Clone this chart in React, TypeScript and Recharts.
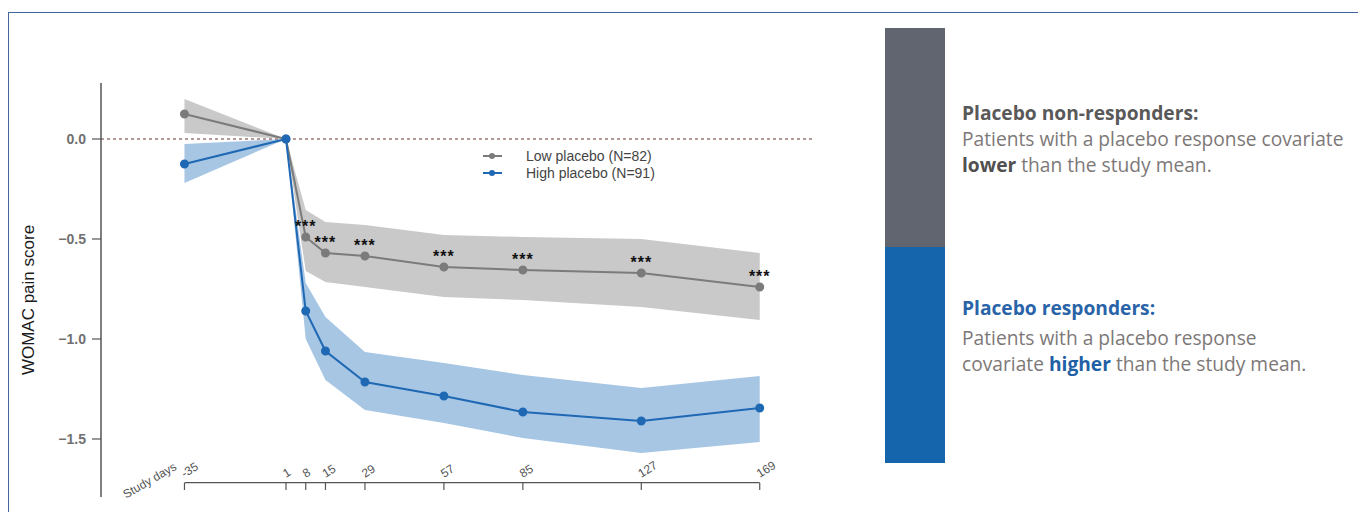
import React from 'react';
import { ComposedChart, Line, Area, XAxis, YAxis, ReferenceLine, LabelList } from 'recharts';

// study days on the x axis
const DAYS = [-35, 1, 8, 15, 29, 57, 85, 127, 169];

// Low placebo (N=82): mean and band
const LOW_MEAN = [0.125, 0, -0.49, -0.57, -0.585, -0.64, -0.655, -0.67, -0.74];
const LOW_UPPER = [0.2, 0, -0.355, -0.415, -0.43, -0.48, -0.49, -0.5, -0.57];
const LOW_LOWER = [0.03, 0, -0.66, -0.715, -0.74, -0.79, -0.805, -0.84, -0.905];

// High placebo (N=91): mean and band
const HIGH_MEAN = [-0.125, 0, -0.86, -1.06, -1.215, -1.285, -1.365, -1.41, -1.345];
const HIGH_UPPER = [-0.025, 0, -0.72, -0.89, -1.065, -1.12, -1.18, -1.245, -1.185];
const HIGH_LOWER = [-0.22, 0, -1.0, -1.205, -1.355, -1.42, -1.495, -1.57, -1.515];

const SIGNIF = ['', '', '***', '***', '***', '***', '***', '***', '***'];
const Y_TICKS = [0, -0.5, -1, -1.5];

const FONT = '"Liberation Sans", Arial, sans-serif';
const TEXT_FONT = '"Open Sans", Lato, sans-serif';
const GREY = '#7b7b7b';
const BLUE = '#1f68b4';
const AXIS_Y = 475; // day axis position inside the chart svg
const AXIS_VALUE = -1.718;

const DayTick = (props: any) => {
  const { x, payload, index } = props;
  const ly = AXIS_Y - 5;
  return (
    <g>
      <line x1={x} x2={x} y1={AXIS_Y} y2={AXIS_Y + 7} stroke="#555" strokeWidth={1.2} />
      <text x={x} y={ly} transform={`rotate(-32 ${x} ${ly})`} fontSize={12} fill="#555" fontFamily={FONT}>
        {payload.value}
      </text>
      {index === 0 && (
        <text x={x - 7} y={AXIS_Y - 14} textAnchor="end" transform={`rotate(-30 ${x - 7} ${AXIS_Y - 14})`}
          fontSize={12} fill="#555" fontFamily={FONT}>
          Study days
        </text>
      )}
    </g>
  );
};

const renderStars = (p: any) => {
  if (!p.value) return null;
  return (
    <text x={p.x} y={p.y - 5} textAnchor="middle" fontSize={16} fontWeight="bold" letterSpacing={1}
      fill="#111" fontFamily={FONT}>
      {p.value}
    </text>
  );
};

export default function App() {
  const data = DAYS.map((d, i) => ({
    day: d,
    low: LOW_MEAN[i],
    lowBand: [LOW_LOWER[i], LOW_UPPER[i]],
    high: HIGH_MEAN[i],
    highBand: [HIGH_LOWER[i], HIGH_UPPER[i]],
    sig: SIGNIF[i],
  }));

  return (
    <div style={{ position: 'relative', width: 1358, height: 504, overflow: 'hidden', background: '#fff', fontFamily: FONT }}>
      <div style={{ position: 'absolute', left: 0, top: 4, width: 1400, height: 600, border: '1px solid #46679a' }} />

      <div style={{ position: 'absolute', left: 0, top: 0 }}>
        <ComposedChart width={860} height={504} data={data} margin={{ top: 75, right: 53, bottom: 13, left: 0 }}>
          <XAxis dataKey="day" type="number" domain={[-64.6, 188.6]} ticks={DAYS} interval={0}
            allowDataOverflow axisLine={false} tickLine={false} height={2} tick={<DayTick />} />
          <YAxis type="number" domain={[-1.79, 0.28]} ticks={Y_TICKS} allowDataOverflow width={93}
            axisLine={{ stroke: '#555', strokeWidth: 1.5 }} tickLine={{ stroke: '#555', strokeWidth: 1.2 }}
            tickSize={9} tickMargin={6} tickFormatter={(v: number) => v.toFixed(1).replace('-', '\u2212')}
            tick={{ fill: '#707070', fontSize: 14, fontWeight: 'bold', fontFamily: FONT }} />
          <Area dataKey="lowBand" type="linear" stroke="none" fill="#c9c9c9" fillOpacity={1} isAnimationActive={false} />
          <Area dataKey="highBand" type="linear" stroke="none" fill="#a7c6e4" fillOpacity={1} isAnimationActive={false} />
          <ReferenceLine y={0} stroke="#9a7a74" strokeDasharray="3 3" strokeWidth={1.5} />
          <ReferenceLine segment={[{ x: -35, y: AXIS_VALUE }, { x: 169, y: AXIS_VALUE }]} stroke="#555"
            strokeWidth={1.2} ifOverflow="visible" />
          <Line dataKey="low" type="linear" stroke={GREY} strokeWidth={2}
            dot={{ r: 3.5, fill: GREY, stroke: GREY }} isAnimationActive={false}>
            <LabelList dataKey="sig" content={renderStars} />
          </Line>
          <Line dataKey="high" type="linear" stroke={BLUE} strokeWidth={2}
            dot={{ r: 3.5, fill: BLUE, stroke: BLUE }} isAnimationActive={false} />
        </ComposedChart>
      </div>

      <div style={{ position: 'absolute', left: 21, top: 292, transform: 'translate(-50%, -50%) rotate(-90deg)',
        whiteSpace: 'nowrap', fontSize: 17, color: '#1a1a1a', fontFamily: FONT }}>
        WOMAC pain score
      </div>

      <svg width={1358} height={504} style={{ position: 'absolute', left: 0, top: 0, pointerEvents: 'none' }}>
        {/* legend */}
        <line x1={475} x2={494} y1={148} y2={148} stroke={GREY} strokeWidth={2} />
        <circle cx={484} cy={148} r={3} fill={GREY} />
        <text x={518} y={153} fontSize={14} fill="#444" fontFamily={FONT}>Low placebo (N=82)</text>
        <line x1={475} x2={494} y1={165} y2={165} stroke={BLUE} strokeWidth={2} />
        <circle cx={484} cy={165} r={3} fill={BLUE} />
        <text x={518} y={170} fontSize={14} fill="#444" fontFamily={FONT}>High placebo (N=91)</text>

        {/* right panel */}
        <rect x={877} y={20} width={60} height={219} fill="#61656f" />
        <rect x={877} y={239} width={60} height={216} fill="#1565ad" />
        <g fontFamily={TEXT_FONT} fontSize={19.2}>
          <text x={954} y={112} fill="#595959" fontWeight="bold">Placebo non-responders:</text>
          <text x={954} y={138} fill="#7d7878">Patients with a placebo response covariate</text>
          <text x={954} y={164} fill="#7d7878">
            <tspan fontWeight="bold" fill="#505050">lower</tspan> than the study mean.
          </text>
          <text x={954} y={307} fill="#2a64a8" fontWeight="bold">Placebo responders:</text>
          <text x={954} y={337} fill="#7d7878">Patients with a placebo response</text>
          <text x={954} y={363} fill="#7d7878">
            covariate <tspan fontWeight="bold" fill="#1f5fa5">higher</tspan> than the study mean.
          </text>
        </g>
      </svg>
    </div>
  );
}
